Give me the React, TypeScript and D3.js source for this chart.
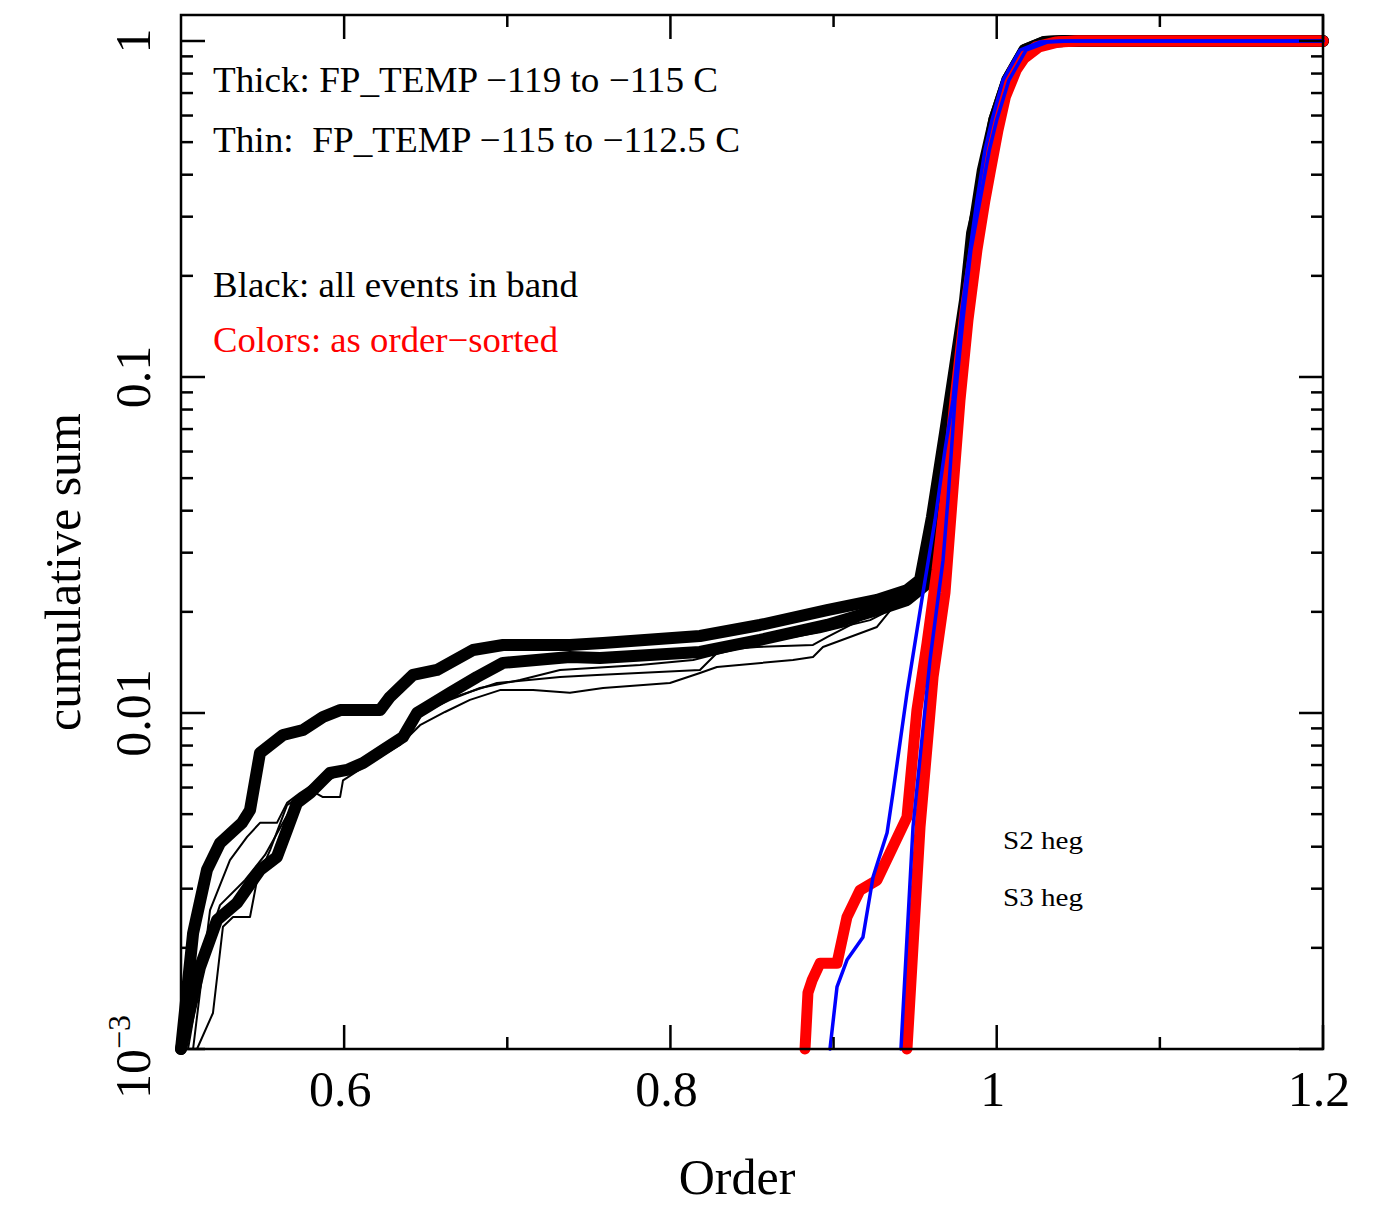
import React from "react";
import * as d3 from "d3";

type P = [number, number];

// ---- data (order, cumulative sum) ----
const blackThickA: P[] = [
  [0.5, 0.001], [0.5074, 0.00221], [0.5159, 0.00341], [0.5239, 0.0041], [0.5374, 0.00471],
  [0.5423, 0.00514], [0.5484, 0.0076], [0.5625, 0.0086], [0.5748, 0.0089], [0.587, 0.00973],
  [0.5975, 0.0102], [0.622, 0.0102], [0.6281, 0.01116], [0.6422, 0.01298], [0.6569, 0.01343],
  [0.679, 0.0154], [0.6974, 0.01594], [0.7384, 0.01594], [0.7587, 0.01616], [0.8181, 0.01695],
  [0.8549, 0.01828], [0.896, 0.02025], [0.9266, 0.0217], [0.945, 0.0232], [0.953, 0.0249],
  [0.9603, 0.0383], [0.9683, 0.0681], [0.9744, 0.107], [0.9806, 0.1696], [0.9849, 0.268],
  [0.9895, 0.336], [0.9985, 0.582], [1.0065, 0.765], [1.017, 0.94], [1.029, 0.993],
  [1.041, 1.0], [1.2, 1.0],
];

const blackThickB: P[] = [
  [0.5, 0.001], [0.5116, 0.00175], [0.5221, 0.00242], [0.5343, 0.00272], [0.5484, 0.00341],
  [0.5588, 0.00373], [0.565, 0.00449], [0.5711, 0.0054], [0.5791, 0.00578], [0.5913, 0.00663],
  [0.6018, 0.00677], [0.6116, 0.0071], [0.6238, 0.00776], [0.6361, 0.00848], [0.6447, 0.01],
  [0.6508, 0.01042], [0.6649, 0.01147], [0.6814, 0.0128], [0.6974, 0.0141], [0.7384, 0.01468],
  [0.7568, 0.01458], [0.8181, 0.0152], [0.8549, 0.0165], [0.896, 0.01828], [0.9266, 0.02025],
  [0.945, 0.0217], [0.956, 0.024], [0.9634, 0.0383], [0.9701, 0.0681], [0.9757, 0.107],
  [0.9812, 0.17], [0.9855, 0.268], [0.9915, 0.413], [0.9985, 0.582], [1.0065, 0.765],
  [1.017, 0.94], [1.029, 0.993], [1.041, 1.0], [1.2, 1.0],
];

const blackThin1: P[] = [
  [0.5098, 0.001], [0.5196, 0.00128], [0.5257, 0.00231], [0.5319, 0.00247], [0.5423, 0.00247],
  [0.5466, 0.00318], [0.5546, 0.00391], [0.565, 0.00532], [0.5791, 0.0059], [0.587, 0.00562],
  [0.5975, 0.00562], [0.5993, 0.0063], [0.6158, 0.0071], [0.6342, 0.00803], [0.6465, 0.0092],
  [0.6618, 0.01007], [0.6771, 0.01094], [0.6955, 0.0117], [0.7158, 0.0117], [0.7384, 0.01148],
  [0.7587, 0.01187], [0.7997, 0.01228], [0.8181, 0.01315], [0.8285, 0.0137], [0.8751, 0.01438],
  [0.8874, 0.01468], [0.8935, 0.01572], [0.9101, 0.01683], [0.9266, 0.01803], [0.9364, 0.02067],
  [0.9469, 0.0232], [0.956, 0.0266], [0.9634, 0.0383], [0.9701, 0.0681], [0.9757, 0.107],
  [0.9812, 0.17], [0.9855, 0.268], [0.9915, 0.413], [0.9985, 0.582], [1.0065, 0.765],
  [1.017, 0.94], [1.029, 0.993], [1.041, 1.0], [1.2, 1.0],
];

const blackThin2: P[] = [
  [0.5074, 0.001], [0.5178, 0.00259], [0.53, 0.00365], [0.5405, 0.00428], [0.5484, 0.00471],
  [0.5588, 0.00471], [0.565, 0.0054], [0.5729, 0.00578], [0.5913, 0.00663], [0.6097, 0.00715],
  [0.6281, 0.00803], [0.6404, 0.0092], [0.6526, 0.01056], [0.671, 0.0113], [0.6937, 0.01228],
  [0.7323, 0.0128], [0.755, 0.01298], [0.8181, 0.01343], [0.8304, 0.0154], [0.8531, 0.01572],
  [0.8874, 0.01594], [0.896, 0.01683], [0.9162, 0.0189], [0.9346, 0.02097], [0.9499, 0.0232],
  [0.9579, 0.0285], [0.9634, 0.0383], [0.9701, 0.0681], [0.9757, 0.107], [0.9812, 0.17],
  [0.9855, 0.268], [0.9915, 0.413], [0.9985, 0.582], [1.0065, 0.765], [1.017, 0.94],
  [1.029, 0.993], [1.041, 1.0], [1.2, 1.0],
];

const blackThin3: P[] = [
  [0.5043, 0.001], [0.5147, 0.00197], [0.5239, 0.00268], [0.5392, 0.00318], [0.5515, 0.00378],
  [0.5668, 0.00514], [0.5852, 0.0061], [0.6036, 0.00686], [0.622, 0.00766], [0.6373, 0.00872],
  [0.6496, 0.01007], [0.6649, 0.01094], [0.6832, 0.01187], [0.7078, 0.01253], [0.7323, 0.01343],
  [0.7814, 0.0139], [0.8139, 0.01438], [0.8549, 0.01616], [0.8917, 0.0174], [0.9224, 0.0189],
  [0.9407, 0.02097], [0.953, 0.0236], [0.9603, 0.0383], [0.9683, 0.0681], [0.9744, 0.107],
  [0.9806, 0.1696], [0.9849, 0.268], [0.9915, 0.413], [0.9985, 0.582], [1.0065, 0.765],
  [1.017, 0.94], [1.029, 0.993], [1.041, 1.0], [1.2, 1.0],
];

const redS2: P[] = [
  [0.8825, 0.001], [0.8843, 0.00147], [0.8868, 0.0016], [0.8917, 0.0018], [0.9021, 0.0018],
  [0.9082, 0.00247], [0.9162, 0.00297], [0.9266, 0.00318], [0.9364, 0.004], [0.945, 0.0049],
  [0.9511, 0.0102], [0.9573, 0.01616], [0.9634, 0.0266], [0.9683, 0.043], [0.9744, 0.0854],
  [0.9806, 0.158], [0.9862, 0.239], [0.9912, 0.336], [0.9945, 0.413], [0.999, 0.543],
  [1.0035, 0.681], [1.01, 0.82], [1.015, 0.89], [1.024, 0.96], [1.036, 0.993],
  [1.048, 1.0], [1.2, 1.0],
];

const redS3: P[] = [
  [0.945, 0.001], [0.953, 0.00458], [0.961, 0.0128], [0.9683, 0.0228], [0.9726, 0.0425],
  [0.9775, 0.0854], [0.9824, 0.148], [0.9879, 0.239], [0.9928, 0.336], [0.9962, 0.413],
  [1.0008, 0.543], [1.0053, 0.681], [1.012, 0.82], [1.017, 0.89], [1.026, 0.96],
  [1.038, 0.993], [1.05, 1.0], [1.2, 1.0],
];

const blueS2: P[] = [
  [0.8978, 0.001], [0.9021, 0.00153], [0.9082, 0.00184], [0.918, 0.00215], [0.9242, 0.00325],
  [0.9328, 0.0044], [0.9364, 0.00578], [0.945, 0.01147], [0.9548, 0.0228], [0.9622, 0.0375],
  [0.9683, 0.0607], [0.9732, 0.0854], [0.9787, 0.158], [0.9836, 0.239], [0.9879, 0.336],
  [0.9928, 0.474], [0.9971, 0.582], [1.0039, 0.765], [1.0143, 0.94], [1.0265, 0.993],
  [1.0388, 1.0], [1.2, 1.0],
];

const blueS3: P[] = [
  [0.9413, 0.001], [0.9487, 0.00458], [0.9591, 0.01438], [0.9671, 0.0285], [0.9701, 0.043],
  [0.9744, 0.0854], [0.9793, 0.148], [0.9842, 0.239], [0.9898, 0.336], [0.9955, 0.474],
  [1.0, 0.582], [1.0075, 0.765], [1.018, 0.94], [1.031, 0.993], [1.045, 1.0], [1.2, 1.0],
];

const xMajor = [0.6, 0.8, 1.0, 1.2];
const xMinor = [0.7, 0.9, 1.1];
const xTickLabels = ["0.6", "0.8", "1", "1.2"];
const yMajor = [0.001, 0.01, 0.1, 1];
const yTickLabels = ["10", "0.01", "0.1", "1"];
const yMinorMult = [2, 3, 4, 5, 6, 7, 8, 9];

const FONT = "'Liberation Serif', 'Times New Roman', serif";

export default function App() {
  const W = 1379, H = 1205;
  const x = d3.scaleLinear().domain([0.5, 1.2]).range([181, 1323]);
  const y = d3.scaleLog().domain([0.001, 1.195]).range([1049, 15]);
  const line = d3.line<P>().x(d => x(d[0])).y(d => y(d[1]));

  const x0 = x(0.5), x1 = x(1.2), yT = y(1.195), yB = y(0.001);
  const yMinor: number[] = [];
  yMajor.slice(0, 3).forEach(m => yMinorMult.forEach(k => yMinor.push(m * k)));

  const blackThick = [blackThickA, blackThickB];
  const blackThin = [blackThin1, blackThin2, blackThin3];
  const reds = [redS2, redS3];
  const blues = [blueS2, blueS3];

  return (
    <svg width={W} height={H} style={{ position: "absolute", left: 0, top: 0, background: "#fff" }}
      fontFamily={FONT}>
      <rect x={0} y={0} width={W} height={H} fill="#fff" />
      {/* curves */}
      <g fill="none" strokeLinejoin="round" strokeLinecap="round">
        {blackThick.map((s, i) => (
          <path key={"bt" + i} d={line(s) || ""} stroke="#000" strokeWidth={12} />
        ))}
        {blackThin.map((s, i) => (
          <path key={"bn" + i} d={line(s) || ""} stroke="#000" strokeWidth={2} />
        ))}
        {reds.map((s, i) => (
          <path key={"r" + i} d={line(s) || ""} stroke="#ff0000" strokeWidth={11} />
        ))}
        {blues.map((s, i) => (
          <path key={"b" + i} d={line(s) || ""} stroke="#0000ff" strokeWidth={3.5} />
        ))}
      </g>
      {/* frame */}
      <rect x={x0} y={yT} width={x1 - x0} height={yB - yT} fill="none" stroke="#000" strokeWidth={2.5} />
      {/* ticks */}
      <g stroke="#000" strokeWidth={2.5}>
        {xMajor.map(v => (
          <g key={"xm" + v}>
            <line x1={x(v)} x2={x(v)} y1={yB} y2={yB - 24} />
            <line x1={x(v)} x2={x(v)} y1={yT} y2={yT + 24} />
          </g>
        ))}
        {xMinor.map(v => (
          <g key={"xn" + v}>
            <line x1={x(v)} x2={x(v)} y1={yB} y2={yB - 12} />
            <line x1={x(v)} x2={x(v)} y1={yT} y2={yT + 12} />
          </g>
        ))}
        {yMajor.map(v => (
          <g key={"ym" + v}>
            <line x1={x0} x2={x0 + 24} y1={y(v)} y2={y(v)} />
            <line x1={x1} x2={x1 - 24} y1={y(v)} y2={y(v)} />
          </g>
        ))}
        {yMinor.map(v => (
          <g key={"yn" + v}>
            <line x1={x0} x2={x0 + 12} y1={y(v)} y2={y(v)} />
            <line x1={x1} x2={x1 - 12} y1={y(v)} y2={y(v)} />
          </g>
        ))}
      </g>
      {/* x tick labels */}
      {xMajor.map((v, i) => (
        <text key={"xl" + v} x={x(v) - 4} y={1106} fontSize={50} textAnchor="middle" fill="#000">
          {xTickLabels[i]}
        </text>
      ))}
      {/* y tick labels (rotated) */}
      {yMajor.map((v, i) => (
        <text key={"yl" + v} transform={`translate(150,${y(v) + (i === 0 ? 8 : 0)}) rotate(-90)`}
          fontSize={50} textAnchor="middle" fill="#000">
          {i === 0 ? (
            <>
              <tspan>{yTickLabels[i]}</tspan>
              <tspan fontSize={32} dy={-20}>−3</tspan>
            </>
          ) : yTickLabels[i]}
        </text>
      ))}
      {/* axis titles */}
      <text x={737} y={1194} fontSize={50} textAnchor="middle" fill="#000">Order</text>
      <text transform="translate(80,572) rotate(-90)" fontSize={50} textAnchor="middle" fill="#000">
        cumulative sum
      </text>
      {/* annotations */}
      <text x={213} y={92} fontSize={36} fill="#000" textLength={505} lengthAdjust="spacingAndGlyphs">
        Thick: FP_TEMP −119 to −115 C
      </text>
      <text x={213} y={152} fontSize={36} fill="#000" textLength={527} lengthAdjust="spacingAndGlyphs"
        style={{ whiteSpace: "pre" }}>
        {"Thin:  FP_TEMP −115 to −112.5 C"}
      </text>
      <text x={213} y={297} fontSize={36} fill="#000" textLength={365} lengthAdjust="spacingAndGlyphs">
        Black: all events in band
      </text>
      <text x={213} y={352} fontSize={36} fill="#ff0000" textLength={345} lengthAdjust="spacingAndGlyphs">
        Colors: as order−sorted
      </text>
      <text x={1003} y={849} fontSize={26} fill="#000" textLength={80} lengthAdjust="spacingAndGlyphs">
        S2 heg
      </text>
      <text x={1003} y={906} fontSize={26} fill="#000" textLength={80} lengthAdjust="spacingAndGlyphs">
        S3 heg
      </text>
    </svg>
  );
}
